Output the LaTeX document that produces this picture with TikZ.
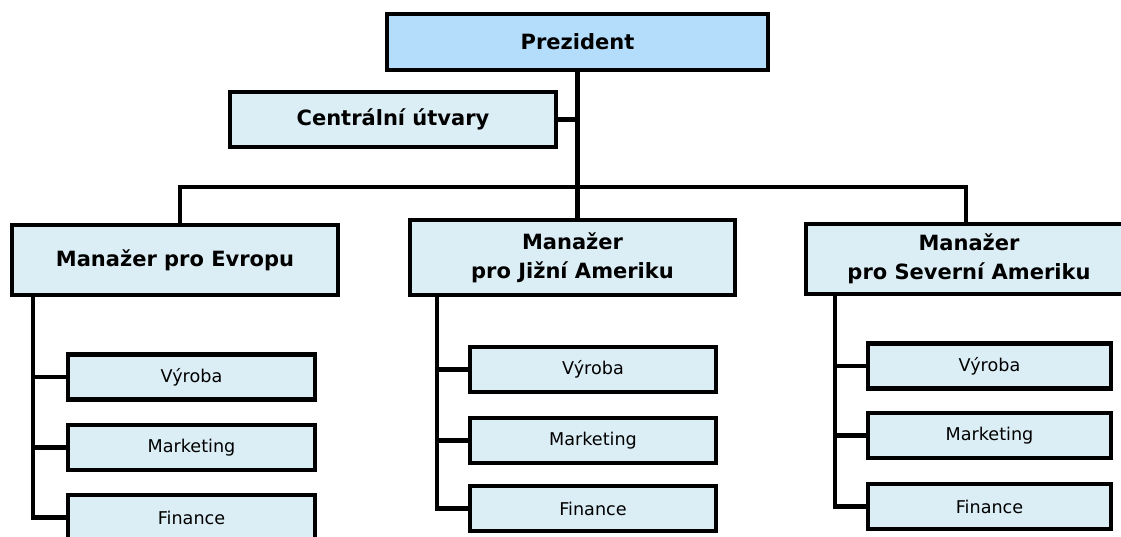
\documentclass[tikz,border=0pt]{standalone}
\usepackage{fontspec}
\setmainfont{DejaVu Sans}
\begin{document}
\begin{tikzpicture}[x=1pt,y=-1pt,
  presbox/.style={draw=black, line width=4.2pt, fill={rgb,255:red,180;green,221;blue,251}, inner sep=0pt, font=\fontsize{21}{29}\selectfont\bfseries, align=center},
  mgrbox/.style={draw=black, line width=4.2pt, fill={rgb,255:red,220;green,238;blue,245}, inner sep=0pt, font=\fontsize{21}{29}\selectfont\bfseries, align=center},
  depbox/.style={draw=black, line width=4.2pt, fill={rgb,255:red,220;green,238;blue,245}, inner sep=0pt, font=\fontsize{17.6}{20}\selectfont, minimum height=45pt},
  conn/.style={draw=black, line width=4.2pt}]
\useasboundingbox (0,0) rectangle (1121,536);
\clip (0,0) rectangle (1121,536);
% top level
\node[presbox, minimum width=381pt, minimum height=56pt] (pres) at (577.5,42) {Prezident};
\node[mgrbox, minimum width=326pt, minimum height=55pt] (cen) at (393,119.5) {Centrální útvary};
% managers
\node[mgrbox, minimum width=326pt, minimum height=70pt] (eu) at (175,260) {Manažer pro Evropu};
\node[mgrbox, minimum width=325pt, minimum height=75pt] (sa) at (572.5,257.5) {Manažer\\pro Jižní Ameriku};
\node[mgrbox, minimum width=326pt, minimum height=70pt] (na) at (969,259) {Manažer\\pro Severní Ameriku};
% departments Europe
\node[depbox, minimum width=247pt] (eV) at (191.5,377) {Výroba};
\node[depbox, minimum width=247pt] (eM) at (191.5,447.5) {Marketing};
\node[depbox, minimum width=247pt] (eF) at (191.5,517.5) {Finance};
% departments South America
\node[depbox, minimum width=246pt] (sV) at (593,369.5) {Výroba};
\node[depbox, minimum width=246pt] (sM) at (593,440.5) {Marketing};
\node[depbox, minimum width=246pt] (sF) at (593,508.5) {Finance};
% departments North America
\node[depbox, minimum width=243pt] (nV) at (989.5,366) {Výroba};
\node[depbox, minimum width=243pt] (nM) at (989.5,435.5) {Marketing};
\node[depbox, minimum width=243pt] (nF) at (989.5,506.5) {Finance};
% bus coordinates
\coordinate (busL) at (180,187);
\coordinate (busR) at (966,187);
\coordinate (busM) at (577.5,187);
\coordinate (eS) at (33,297);
\coordinate (sS) at (437,297);
\coordinate (nS) at (835,296);
% connectors
\draw[conn] (pres.south) -- (busM);
\draw[conn] (cen.east) -- (cen.east -| pres.south);
\draw[conn] (busL |- eu.north) -- (busL) -- (busR) -- (busR |- na.north);
\draw[conn] (busM) -- (busM |- sa.north);
\draw[conn] (eS) |- (eF.west);
\draw[conn] (eS |- eV.west) -- (eV.west);
\draw[conn] (eS |- eM.west) -- (eM.west);
\draw[conn] (sS) |- (sF.west);
\draw[conn] (sS |- sV.west) -- (sV.west);
\draw[conn] (sS |- sM.west) -- (sM.west);
\draw[conn] (nS) |- (nF.west);
\draw[conn] (nS |- nV.west) -- (nV.west);
\draw[conn] (nS |- nM.west) -- (nM.west);
\end{tikzpicture}
\end{document}
